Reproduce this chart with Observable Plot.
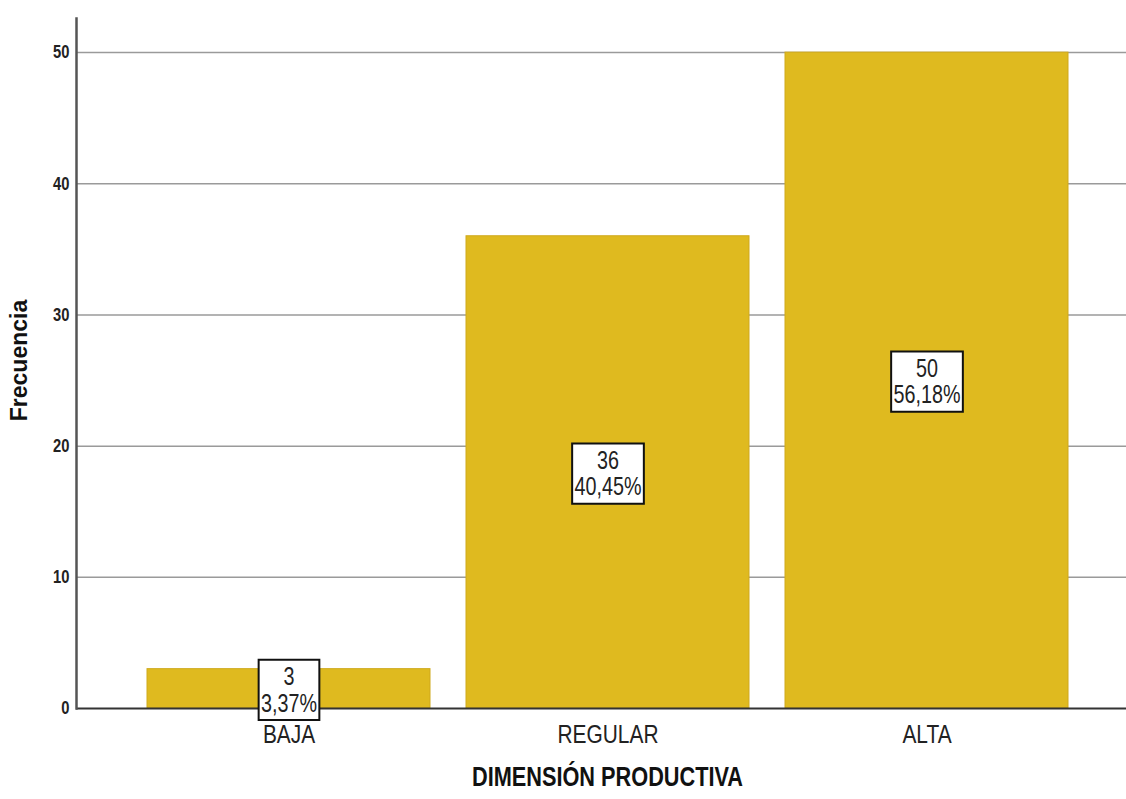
<!DOCTYPE html>
<html>
<head>
<meta charset="utf-8">
<script src="https://cdn.jsdelivr.net/npm/d3@7"></script>
<script src="https://cdn.jsdelivr.net/npm/@observablehq/plot@0.6"></script>
<style>
  html, body { margin: 0; padding: 0; background: #fff; }
  #chart svg { display: block; }
</style>
</head>
<body>
<div id="chart"></div>
<script>
const categories = ["BAJA", "REGULAR", "ALTA"];
const counts = [3, 36, 50];
const percents = ["3,37%", "40,45%", "56,18%"];
const yTicks = [0, 10, 20, 30, 40, 50];
const xTitle = "DIMENSIÓN PRODUCTIVA";
const yTitle = "Frecuencia";

const data = categories.map((c, i) => ({cat: c, n: counts[i], pct: percents[i]}));
const FONT = "'Liberation Sans', Arial, sans-serif";
const BAR = "#DFBA1F";

const plot = Plot.plot({
  width: 1126,
  height: 799,
  marginLeft: 76,
  marginRight: 0,
  marginTop: 18,
  marginBottom: 91,
  style: {fontFamily: FONT, background: "#fff", color: "#222"},
  x: {domain: categories, range: [146, 1068], paddingInner: 0.113, paddingOuter: 0, label: null},
  y: {domain: [0, 52.6], ticks: yTicks, label: null},
  marks: [
    Plot.ruleY(yTicks.filter(d => d > 0), {stroke: "#9a9a9a", strokeWidth: 1.5}),
    Plot.barY(data, {x: "cat", y: "n", fill: BAR, stroke: "#cfa91c", strokeWidth: 1}),
    Plot.ruleY([0], {stroke: "#333", strokeWidth: 1.8}),
    Plot.frame({anchor: "left", stroke: "#555", strokeWidth: 2.5}),
    Plot.axisY({ticks: yTicks, tickSize: 0, tickPadding: 7, fontSize: 18, fontWeight: "bold", fill: "#222"}),
    Plot.axisX({tickSize: 0, tickPadding: 17, fontSize: 25, fill: "#222"}),
    Plot.text(data, {
      x: "cat",
      y: d => d.n / 2,
      text: d => `${d.n}\n${d.pct}`,
      fontSize: 25,
      lineHeight: 1.06,
      dy: 1,
      fill: "#222"
    }),
    Plot.text([yTitle], {frameAnchor: "left", textAnchor: "middle", dx: -57, dy: -3, rotate: -90, fontSize: 23, fontWeight: "bold", letterSpacing: 2, fill: "#111"}),
    Plot.text([xTitle], {frameAnchor: "bottom", dy: 77, dx: 6, fontSize: 28, fontWeight: "bold", fill: "#111"})
  ]
});

document.getElementById("chart").appendChild(plot);

// horizontally condense text (narrow SPSS-style font)
function condense(t, s) {
  const tr = t.getAttribute("transform") || "";
  t.setAttribute("transform", `${tr} scale(${s},1)`);
}
const allText = Array.from(plot.querySelectorAll("text"));
allText.forEach(t => {
  const txt = t.textContent;
  if (categories.includes(txt)) condense(t, 0.836);
  else if (yTicks.map(String).includes(txt)) condense(t, 0.82);
  else if (txt === xTitle) condense(t, 0.776);
});

// value labels: white boxes with black borders
allText.filter(t => percents.some(p => t.textContent.includes(p))).forEach(t => {
  condense(t, 0.79);
  const b = t.getBBox();
  const r = document.createElementNS("http://www.w3.org/2000/svg", "rect");
  const px = 3, py = 3;
  r.setAttribute("x", b.x - px);
  r.setAttribute("y", b.y - py);
  r.setAttribute("width", b.width + 2 * px);
  r.setAttribute("height", b.height + 2 * py);
  r.setAttribute("fill", "#fff");
  r.setAttribute("stroke", "#111");
  r.setAttribute("stroke-width", 2);
  r.setAttribute("vector-effect", "non-scaling-stroke");
  r.setAttribute("transform", t.getAttribute("transform") || "");
  t.parentNode.insertBefore(r, t);
});
</script>
</body>
</html>
